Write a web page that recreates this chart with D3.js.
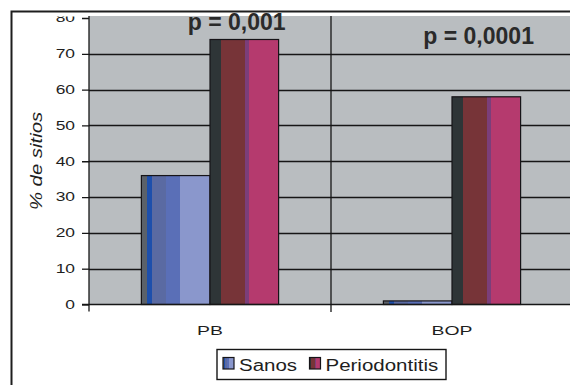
<!DOCTYPE html>
<html>
<head>
<meta charset="utf-8">
<script src="https://cdn.jsdelivr.net/npm/d3@7"></script>
<style>
  html, body { margin: 0; padding: 0; background: #fff; }
  svg { display: block; }
</style>
</head>
<body>
<svg id="chart" width="570" height="385"></svg>
<script>
// Percentage of sites per group, for probing depth (PB) and bleeding on probing (BOP)
const categories = ["PB", "BOP"];
const seriesNames = ["Sanos", "Periodontitis"];
const sanos = [36, 1];
const periodontitis = [74, 58];
const pLabels = ["p = 0,001", "p = 0,0001"];
const yTicks = [0, 10, 20, 30, 40, 50, 60, 70, 80];
const yTitle = "% de sitios";

const svg = d3.select("#chart");
const W = 570, H = 385;

// plot frame
const plot = { left: 89, right: 573, top: 16, zero: 304.5, top80: 18 };

const y = d3.scaleLinear().domain([0, 80]).range([plot.zero, plot.top80]);
const x = d3.scaleBand().domain(categories).range([plot.left, plot.right]).padding(0);
const barW = 68.6;
const xs = d3.scaleBand().domain(seriesNames)
  .range([x.bandwidth() / 2 - barW, x.bandwidth() / 2 + barW]).padding(0);

// striped fills that mimic the shaded columns
const defs = svg.append("defs");
function stripes(id, stops) {
  const g = defs.append("linearGradient").attr("id", id)
    .attr("x1", 0).attr("x2", 1).attr("y1", 0).attr("y2", 0);
  stops.forEach(([a, b, c]) => {
    g.append("stop").attr("offset", a).attr("stop-color", c);
    g.append("stop").attr("offset", b).attr("stop-color", c);
  });
}
stripes("fillSanos", [
  [0, 0.082, "#5b6169"],
  [0.082, 0.16, "#1d4fac"],
  [0.16, 0.364, "#5a6aa2"],
  [0.364, 0.558, "#5a6fb7"],
  [0.558, 1, "#8a97cc"]
]);
stripes("fillPerio", [
  [0, 0.166, "#2e3537"],
  [0.166, 0.507, "#773438"],
  [0.507, 0.57, "#7b3e7a"],
  [0.57, 1, "#b53a6e"]
]);
const fills = { "Sanos": "url(#fillSanos)", "Periodontitis": "url(#fillPerio)" };

defs.append("clipPath").attr("id", "inner")
  .append("rect").attr("x", 12).attr("y", 12.5).attr("width", W).attr("height", H);
defs.append("clipPath").attr("id", "axisClip")
  .attr("clipPathUnits", "userSpaceOnUse")
  .append("rect").attr("x", -200).attr("y", 16.5).attr("width", 400).attr("height", H);

const root = svg.append("g").attr("clip-path", "url(#inner)");

// grey plot background
root.append("rect")
  .attr("x", plot.left).attr("y", plot.top)
  .attr("width", plot.right - plot.left).attr("height", plot.zero - plot.top)
  .attr("fill", "#b9bdc0");

// horizontal gridlines
root.append("g").selectAll("line")
  .data(yTicks.filter(d => d > 0 && d < 80))
  .join("line")
  .attr("x1", plot.left).attr("x2", plot.right)
  .attr("y1", d => Math.round(y(d)) + 0.5).attr("y2", d => Math.round(y(d)) + 0.5)
  .attr("stroke", "#161616").attr("stroke-width", 1.3);

// category boundaries
root.append("g").selectAll("line")
  .data(categories.slice(1))
  .join("line")
  .attr("x1", d => x(d)).attr("x2", d => x(d))
  .attr("y1", plot.top).attr("y2", plot.zero + 7.5)
  .attr("stroke", "#161616").attr("stroke-width", 1.3);

// bars
const rows = categories.map((c, i) => ({ cat: c, values: [
  { name: "Sanos", value: sanos[i] },
  { name: "Periodontitis", value: periodontitis[i] }
]}));
const groups = root.append("g").selectAll("g")
  .data(rows).join("g")
  .attr("transform", d => `translate(${x(d.cat)},0)`);
groups.selectAll("rect")
  .data(d => d.values)
  .join("rect")
  .attr("x", d => xs(d.name))
  .attr("y", d => y(d.value))
  .attr("width", xs.bandwidth())
  .attr("height", d => y(0) - y(d.value))
  .attr("fill", d => fills[d.name])
  .attr("stroke", "#161418").attr("stroke-width", 1.2);

// axis lines
root.append("line")
  .attr("x1", plot.left).attr("x2", plot.left)
  .attr("y1", plot.top).attr("y2", plot.zero + 7)
  .attr("stroke", "#161616").attr("stroke-width", 1.3);
root.append("line")
  .attr("x1", plot.left - 7).attr("x2", plot.right)
  .attr("y1", plot.zero).attr("y2", plot.zero)
  .attr("stroke", "#161616").attr("stroke-width", 1.3);

// stretch a text node horizontally, the way the labels are drawn
function stretch(sel, k) {
  sel.each(function () {
    const w = this.getComputedTextLength();
    d3.select(this).attr("textLength", w * k).attr("lengthAdjust", "spacingAndGlyphs");
  });
}

// y axis
const yAxis = root.append("g")
  .attr("clip-path", "url(#axisClip)")
  .attr("transform", `translate(${plot.left},0)`)
  .call(d3.axisLeft(y).tickValues(yTicks).tickSize(7).tickPadding(7).tickFormat(d3.format("d")));
yAxis.select(".domain").remove();
yAxis.selectAll(".tick line").attr("stroke", "#161616").attr("stroke-width", 1.3);
yAxis.selectAll(".tick text")
  .attr("font-family", "Liberation Sans, Arial, sans-serif")
  .attr("font-size", 12).attr("fill", "#1e1e1e")
  .call(stretch, 1.45);

// x axis labels
const xAxis = root.append("g")
  .attr("transform", `translate(0,${plot.zero})`)
  .call(d3.axisBottom(x).tickSize(0).tickPadding(21.5));
xAxis.select(".domain").remove();
xAxis.selectAll(".tick text")
  .attr("font-family", "Liberation Sans, Arial, sans-serif")
  .attr("font-size", 12.5).attr("fill", "#1e1e1e")
  .call(stretch, 1.55);

// y axis title
root.append("text")
  .attr("transform", `translate(42,161) rotate(-90)`)
  .attr("text-anchor", "middle")
  .attr("font-family", "Liberation Sans, Arial, sans-serif")
  .attr("font-size", 16).attr("font-style", "italic").attr("fill", "#1e1e1e")
  .text(yTitle)
  .call(stretch, 1.27);

// significance labels
const pAnchor = [{ dx: 0.61, v: 76.6 }, { dx: 0.61, v: 72.7 }];
root.append("g").selectAll("text")
  .data(categories)
  .join("text")
  .attr("x", (d, i) => x(d) + pAnchor[i].dx * x.bandwidth())
  .attr("y", (d, i) => y(pAnchor[i].v))
  .attr("text-anchor", "middle")
  .attr("font-family", "Liberation Sans, Arial, sans-serif")
  .attr("font-size", 23).attr("font-weight", "bold").attr("fill", "#2a2a2a")
  .text((d, i) => pLabels[i]);

// legend
const legend = root.append("g");
legend.append("rect")
  .attr("x", 217).attr("y", 349.5).attr("width", 229).attr("height", 30)
  .attr("fill", "#fff").attr("stroke", "#161616").attr("stroke-width", 1.4);
const legendX = [223, 309.5];
seriesNames.forEach((name, i) => {
  legend.append("rect")
    .attr("x", legendX[i]).attr("y", 357.5).attr("width", 11).attr("height", 11.5)
    .attr("fill", fills[name]).attr("stroke", "#161418").attr("stroke-width", 1.2);
  legend.append("text")
    .attr("x", legendX[i] + 16).attr("y", 370.5)
    .attr("font-family", "Liberation Sans, Arial, sans-serif")
    .attr("font-size", 16).attr("fill", "#1e1e1e")
    .text(name)
    .call(stretch, 1.28);
});

// outer frame
svg.append("path")
  .attr("d", `M11.5,${H + 5} V11.5 H${W + 5}`)
  .attr("fill", "none").attr("stroke", "#1e1e1e").attr("stroke-width", 2);
</script>
</body>
</html>
